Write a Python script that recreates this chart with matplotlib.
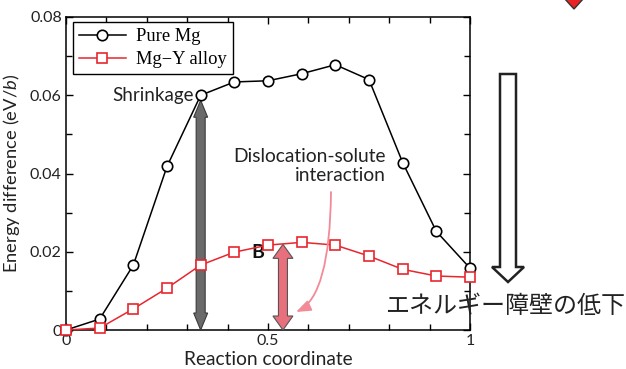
import matplotlib
matplotlib.use('Agg')
import matplotlib.pyplot as plt
from matplotlib.patches import Polygon, FancyArrowPatch
from matplotlib.path import Path
from matplotlib.ticker import MultipleLocator, FuncFormatter

plt.rcParams['font.family'] = ['Lato', 'DejaVu Sans']
plt.rcParams['mathtext.fontset'] = 'custom'
plt.rcParams['mathtext.rm'] = 'Lato'
plt.rcParams['mathtext.it'] = 'Lato:italic'

# reaction path (NEB images) and energy profiles
coord = [0, 1/12, 2/12, 3/12, 4/12, 5/12, 6/12, 7/12, 8/12, 9/12, 10/12, 11/12, 1]
pure_mg = [0, 0.0028, 0.0166, 0.0418, 0.0600, 0.0634, 0.0637, 0.0655, 0.0678,
           0.0640, 0.0428, 0.0252, 0.0158]
mg_y = [0, 0.0005, 0.0054, 0.0107, 0.0166, 0.0199, 0.0217, 0.0224, 0.0217,
        0.0189, 0.0155, 0.0138, 0.0135]
labels = ['Pure Mg', 'Mg\u2212Y alloy']
b_x = 0.537  # where the barrier "B" is marked

W, H = 626, 369
fig = plt.figure(figsize=(W / 100, H / 100), dpi=100)
ax = fig.add_axes([66 / W, 1 - 330 / H, 404 / W, 313 / H])
ax.set_xlim(0, 1)
ax.set_ylim(0, 0.08)

# pixel -> data sizes
px_x = 1 / 404
px_y = 0.08 / 313

ax.plot(coord, pure_mg, '-o', color='black', lw=1.1, ms=7.5, mfc='white',
        mec='black', mew=1.2, clip_on=False, zorder=5, label=labels[0])
ax.plot(coord, mg_y, '-s', color='#e8262e', lw=1.1, ms=6.5, mfc='white',
        mec='#e8262e', mew=1.2, clip_on=False, zorder=5, label=labels[1])

leg = ax.legend(loc='upper left', bbox_to_anchor=(0.017, 0.984), borderaxespad=0,
                fancybox=False, edgecolor='black', framealpha=1,
                prop={'family': ['Liberation Serif', 'DejaVu Serif'], 'size': 13.3},
                handlelength=2.5, handletextpad=0.55, borderpad=0.35,
                labelspacing=0.3)
leg.get_frame().set_linewidth(1.0)

for s in ax.spines.values():
    s.set_linewidth(1.1)
ax.xaxis.set_major_locator(MultipleLocator(0.5))
ax.xaxis.set_minor_locator(MultipleLocator(0.1))
ax.yaxis.set_major_locator(MultipleLocator(0.02))
ax.yaxis.set_minor_locator(MultipleLocator(0.01))
fmt = FuncFormatter(lambda v, pos: '0' if abs(v) < 1e-9 else f'{v:g}')
ax.xaxis.set_major_formatter(fmt)
ax.yaxis.set_major_formatter(fmt)
ax.tick_params(which='both', direction='in', top=True, right=True,
               labelsize=11.5, labelcolor='#222222', width=1.0)
ax.tick_params(which='major', length=5, pad=3)
ax.tick_params(which='minor', length=4)

ax.set_xlabel('Reaction coordinate', fontsize=13.8, color='#222222', labelpad=2)
ax.set_ylabel('Energy difference (eV/$b$)', fontsize=13.2, color='#222222', labelpad=6)


def fat_arrow(x, y0, y1, shaft, head, head_len, fc, ec):
    sx = shaft / 2 * px_x
    hx = head / 2 * px_x
    hl = head_len * px_y
    pts = [(x, y1), (x + hx, y1 - hl), (x + sx, y1 - hl), (x + sx, y0 + hl),
           (x + hx, y0 + hl), (x, y0), (x - hx, y0 + hl), (x - sx, y0 + hl),
           (x - sx, y1 - hl), (x - hx, y1 - hl)]
    ax.add_patch(Polygon(pts, closed=True, fc=fc, ec=ec, lw=0.8, zorder=3,
                         clip_on=False))


# shrinkage of the pure Mg barrier
fat_arrow(coord[4], 0, pure_mg[4] - 5 * px_y, 9, 14, 17, '#6a6a6a', '#3a3a3a')
ax.text(coord[4] - 7 * px_x, pure_mg[4], 'Shrinkage', ha='right', va='center',
        fontsize=13.5, color='#222222')

# solute barrier B
fat_arrow(b_x, 0, max(mg_y) - 2 * px_y, 9, 20, 14, '#e8707c', '#555555')
ax.text(b_x - 25 * px_x, 0.0199, 'B', ha='center', va='center', fontsize=14,
        fontweight='bold', color='#111111')
ax.text(0.792, 0.0419, 'Dislocation-solute\ninteraction', ha='right', va='center',
        multialignment='right', fontsize=13.8, color='#222222', linespacing=1.1)

# overlay in pixel coordinates for the annotations outside the plot
ov = fig.add_axes([0, 0, 1, 1], zorder=10)
ov.set_xlim(0, W)
ov.set_ylim(H, 0)
ov.axis('off')
ov.patch.set_visible(False)

curve = Path([(331, 192), (330, 296), (296, 312)],
             [Path.MOVETO, Path.CURVE3, Path.CURVE3])
ov.add_patch(FancyArrowPatch(path=curve, arrowstyle='-|>,head_length=0.8,head_width=0.3',
                             mutation_scale=11, color='#f28a98', lw=1.3))

ov.add_patch(Polygon([(500, 74), (516, 74), (516, 267), (524, 267), (508, 282),
                      (492, 267), (500, 267)], closed=True, fc='white',
                     ec='#222222', lw=1.8, joinstyle='miter'))
ov.add_patch(Polygon([(564, -2), (584, -2), (574, 9)], closed=True,
                     fc='#e82424', ec='#333333', lw=1.0))

ov.text(385, 306, 'エネルギー障壁の低下', ha='left', va='center', fontsize=17.3,
        family=['Noto Sans CJK JP', 'DejaVu Sans'], color='#222222')

fig.savefig('out.png', dpi=100)
